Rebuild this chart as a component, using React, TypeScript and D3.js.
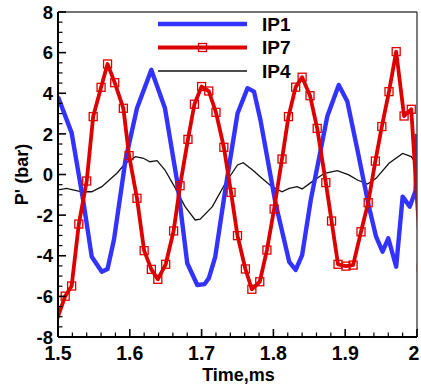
import React from "react";
import * as d3 from "d3";

const ip1T = [1.5, 1.519, 1.535, 1.547, 1.561, 1.569, 1.578, 1.594, 1.61, 1.63, 1.649, 1.666, 1.68, 1.694, 1.704, 1.71, 1.719, 1.733, 1.75, 1.764, 1.773, 1.782, 1.803, 1.822, 1.831, 1.84, 1.852, 1.864, 1.875, 1.891, 1.903, 1.917, 1.933, 1.943, 1.952, 1.96, 1.971, 1.98, 1.99, 1.998, 2.0];
const ip1V = [3.83, 2.05, -1.26, -4.05, -4.79, -4.65, -3.2, 0.71, 3.26, 5.15, 3.26, -0.35, -4.37, -5.44, -5.4, -5.11, -4.05, -0.76, 3.0, 4.25, 4.08, 2.68, -1.42, -4.3, -4.7, -3.97, -1.26, 0.88, 2.85, 4.41, 3.59, 1.21, -1.58, -3.06, -3.8, -3.14, -4.54, -1.09, -1.58, -0.8, 2.0];

const ip7T = [1.494, 1.51, 1.519, 1.529, 1.54, 1.549, 1.56, 1.569, 1.579, 1.591, 1.599, 1.61, 1.62, 1.63, 1.639, 1.65, 1.661, 1.67, 1.681, 1.69, 1.7, 1.71, 1.72, 1.731, 1.741, 1.75, 1.761, 1.77, 1.781, 1.791, 1.801, 1.812, 1.821, 1.831, 1.84, 1.851, 1.861, 1.873, 1.881, 1.89, 1.901, 1.911, 1.922, 1.932, 1.942, 1.951, 1.961, 1.971, 1.982, 1.992, 2.006];
const ip7V = [-7.6, -5.99, -5.49, -2.44, -0.32, 2.85, 4.29, 5.44, 4.52, 3.26, 0.93, -1.17, -3.75, -4.67, -5.16, -4.42, -2.78, -0.55, 1.73, 3.46, 4.33, 4.11, 3.06, 1.34, -0.88, -3.01, -4.65, -5.65, -5.28, -3.72, -1.7, 0.76, 2.85, 4.3, 4.79, 3.88, 2.27, -0.4, -2.29, -4.42, -4.51, -4.46, -2.82, -1.39, 0.66, 2.36, 4.08, 6.05, 2.88, 3.21, -4.6];

const ip4T = [1.5, 1.512, 1.533, 1.547, 1.561, 1.582, 1.594, 1.608, 1.619, 1.628, 1.638, 1.649, 1.661, 1.677, 1.691, 1.698, 1.715, 1.733, 1.75, 1.758, 1.771, 1.784, 1.798, 1.812, 1.822, 1.833, 1.84, 1.854, 1.871, 1.889, 1.905, 1.917, 1.931, 1.943, 1.961, 1.98, 1.992, 2.0];
const ip4V = [-0.76, -0.68, -0.85, -0.85, -0.6, 0.06, 0.55, 0.88, 0.8, 0.63, 0.68, 0.22, -0.52, -1.58, -2.24, -2.2, -1.58, -0.43, 0.47, 0.58, 0.22, -0.19, -0.6, -0.85, -0.68, -0.6, -0.71, -0.35, 0.06, 0.19, -0.02, -0.27, -0.47, -0.19, 0.55, 1.04, 0.88, 0.47];

const xMajor = [1.5, 1.6, 1.7, 1.8, 1.9, 2.0];
const xMajorLabels = ["1.5", "1.6", "1.7", "1.8", "1.9", "2"];
const yMajor = [-8, -6, -4, -2, 0, 2, 4, 6, 8];
const seriesNames = ["IP1", "IP7", "IP4"];

const BLUE = "#3333ff";
const RED = "#dd0000";
const FONT = "'Liberation Sans', Arial, sans-serif";

export default function App() {
  const left = 58, right = 417, top = 12, bottom = 337;
  const x = d3.scaleLinear().domain([1.5, 2.0]).range([left, right]);
  const y = d3.scaleLinear().domain([-8, 8]).range([bottom, top]);

  const mk = (ts: number[], vs: number[]) => ts.map((t, i) => [t, vs[i]] as [number, number]);
  const d1 = mk(ip1T, ip1V);
  const d7 = mk(ip7T, ip7V);
  const d4 = mk(ip4T, ip4V);
  const line = d3.line<[number, number]>().x(d => x(d[0])).y(d => y(d[1]));

  const xMinor = d3.range(0, 26).map(i => 1.5 + i * 0.02).filter((_, i) => i % 5 !== 0);
  const yMinor = d3.range(0, 33).map(i => -8 + i * 0.5).filter((_, i) => i % 4 !== 0);

  const ms = 8;
  const legX1 = 158, legX2 = 247, legTx = 262;
  const legY = [24, 47.5, 71];

  return (
    <svg width={421} height={385} style={{ position: "absolute", left: 0, top: 0, background: "#fff" }} fontFamily={FONT}>
      <defs>
        <clipPath id="plotClip">
          <rect x={left} y={top} width={right - left} height={bottom - top} />
        </clipPath>
      </defs>
      <rect x={0} y={0} width={421} height={385} fill="#fff" />
      <g clipPath="url(#plotClip)">
        <path d={line(d4) || ""} fill="none" stroke="#111" strokeWidth={1.3} />
        <path d={line(d1) || ""} fill="none" stroke={BLUE} strokeWidth={4.4} strokeLinejoin="round" />
        <path d={line(d7) || ""} fill="none" stroke={RED} strokeWidth={3.8} strokeLinejoin="round" />
        {d7.map((d, i) => (
          <rect key={i} x={x(d[0]) - ms / 2} y={y(d[1]) - ms / 2} width={ms} height={ms} fill="none" stroke={RED} strokeWidth={1.3} />
        ))}
      </g>
      <line x1={left} y1={top} x2={right} y2={top} stroke="#444" strokeWidth={1.4} />
      <line x1={right} y1={top} x2={right} y2={bottom} stroke="#444" strokeWidth={1.4} />
      <line x1={left} y1={top} x2={left} y2={bottom} stroke="#000" strokeWidth={2} />
      <line x1={left} y1={bottom} x2={right} y2={bottom} stroke="#000" strokeWidth={2} />
      {yMajor.map(v => (
        <line key={"ym" + v} x1={left} x2={left + 8} y1={y(v)} y2={y(v)} stroke="#000" strokeWidth={1.6} />
      ))}
      {yMinor.map(v => (
        <line key={"yn" + v} x1={left} x2={left + 4.5} y1={y(v)} y2={y(v)} stroke="#000" strokeWidth={1.2} />
      ))}
      {xMajor.map(v => (
        <line key={"xm" + v} x1={x(v)} x2={x(v)} y1={bottom} y2={bottom - 8} stroke="#000" strokeWidth={1.6} />
      ))}
      {xMinor.map(v => (
        <line key={"xn" + v} x1={x(v)} x2={x(v)} y1={bottom} y2={bottom - 4.5} stroke="#000" strokeWidth={1.2} />
      ))}
      {yMajor.map(v => (
        <text key={"yl" + v} x={53} y={y(v)} dy="0.36em" textAnchor="end" fontSize={18.5} fontWeight="bold" fill="#000">{String(v)}</text>
      ))}
      {xMajor.map((v, i) => (
        <text key={"xl" + v} x={Math.min(x(v), 414)} y={360} textAnchor="middle" fontSize={19.5} fontWeight="bold" fill="#000">{xMajorLabels[i]}</text>
      ))}
      <text x={(left + right) / 2 + 1} y={381} textAnchor="middle" fontSize={18} fontWeight="bold">Time,ms</text>
      <text transform={`translate(28, ${y(0)}) rotate(-90)`} textAnchor="middle" fontSize={18} fontWeight="bold">P' (bar)</text>
      <line x1={legX1} x2={legX2} y1={legY[0]} y2={legY[0]} stroke={BLUE} strokeWidth={4.4} />
      <line x1={legX1} x2={legX2} y1={legY[1]} y2={legY[1]} stroke={RED} strokeWidth={3.8} />
      <rect x={(legX1 + legX2) / 2 - ms / 2} y={legY[1] - ms / 2} width={ms} height={ms} fill="none" stroke={RED} strokeWidth={1.3} />
      <line x1={legX1} x2={legX2} y1={legY[2]} y2={legY[2]} stroke="#111" strokeWidth={1.3} />
      {seriesNames.map((n, i) => (
        <text key={n} x={legTx} y={legY[i]} dy="0.36em" fontSize={19} fontWeight="bold">{n}</text>
      ))}
    </svg>
  );
}
